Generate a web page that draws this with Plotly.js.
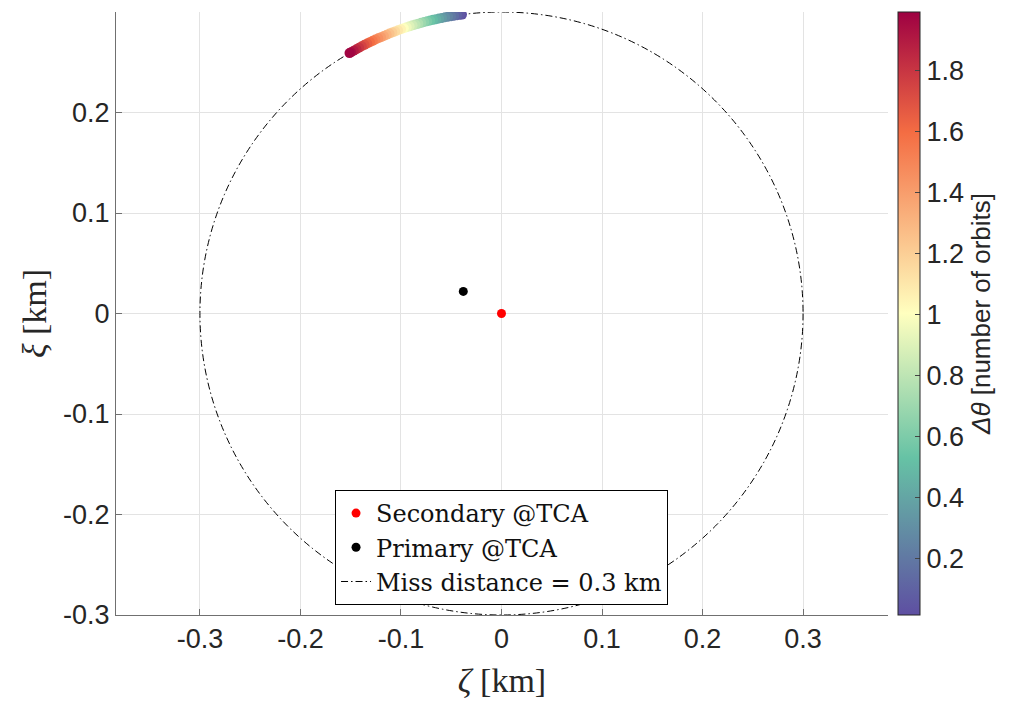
<!DOCTYPE html>
<html>
<head>
<meta charset="utf-8">
<script src="https://cdn.plot.ly/plotly-3.0.1.min.js"></script>
<style>html,body{margin:0;padding:0;background:#fff;}#plot{width:1010px;height:704px;}</style>
</head>
<body>
<div id="plot"></div>
<script>
// Relative trajectory of the primary
const deltaTheta = [0.02, 0.05, 0.1, 0.15, 0.2, 0.25, 0.3, 0.35, 0.4, 0.45, 0.5, 0.55, 0.6, 0.65, 0.7, 0.75, 0.8, 0.85, 0.9, 0.95, 1.0, 1.05, 1.1, 1.15, 1.2, 1.25, 1.3, 1.35, 1.4, 1.45, 1.5, 1.55, 1.6, 1.65, 1.7, 1.75, 1.8, 1.85, 1.9, 1.95, 1.98];
const zetaArc = [-0.0393, -0.0411, -0.0441, -0.0471, -0.0501, -0.0531, -0.0561, -0.0591, -0.0621, -0.0650, -0.0680, -0.0709, -0.0739, -0.0768, -0.0798, -0.0827, -0.0856, -0.0885, -0.0914, -0.0943, -0.0972, -0.1000, -0.1029, -0.1058, -0.1086, -0.1114, -0.1142, -0.1170, -0.1198, -0.1226, -0.1254, -0.1281, -0.1309, -0.1336, -0.1363, -0.1390, -0.1417, -0.1443, -0.1470, -0.1496, -0.1512];
const xiArc = [0.2974, 0.2972, 0.2967, 0.2963, 0.2958, 0.2953, 0.2947, 0.2941, 0.2935, 0.2929, 0.2922, 0.2915, 0.2908, 0.2900, 0.2892, 0.2884, 0.2875, 0.2867, 0.2857, 0.2848, 0.2838, 0.2828, 0.2818, 0.2807, 0.2797, 0.2786, 0.2774, 0.2762, 0.2750, 0.2738, 0.2726, 0.2713, 0.2700, 0.2686, 0.2673, 0.2659, 0.2645, 0.2630, 0.2615, 0.2600, 0.2591];
const secondary = {zeta: [0], xi: [0]};
const primary = {zeta: [-0.038], xi: [0.022]};
const missDistance = 0.3;
const xTicks = [-0.3, -0.2, -0.1, 0, 0.1, 0.2, 0.3];
const yTicks = [-0.3, -0.2, -0.1, 0, 0.1, 0.2];
const cbTicks = [0.2, 0.4, 0.6, 0.8, 1, 1.2, 1.4, 1.6, 1.8];

const colorScale = [
  [0.0, '#5e4fa2'], [0.26, '#66c2a5'], [0.5, '#ffffbf'], [0.8, '#f46d43'], [1.0, '#9e0142']
];

const serif = 'Liberation Serif, Times New Roman, serif';
const legendSerif = 'DejaVu Serif, Liberation Serif, serif';
const sans = 'Liberation Sans, Arial, Helvetica, sans-serif';
const dashPattern = '7px,3px,1.5px,3px';
const tickFont = {family: sans, size: 27, color: '#262626'};

const traces = [
  {
    x: zetaArc, y: xiArc, type: 'scatter', mode: 'markers', showlegend: false,
    hoverinfo: 'skip',
    marker: {
      size: 10, color: deltaTheta, colorscale: colorScale, cmin: 0.013, cmax: 1.993,
      line: {width: 0},
      colorbar: {
        x: 1.013, xanchor: 'left', y: 0.5, yanchor: 'middle', len: 1, lenmode: 'fraction',
        thickness: 22, thicknessmode: 'pixels',
        outlinecolor: '#262626', outlinewidth: 1,
        tickvals: cbTicks, ticktext: cbTicks.map(String),
        ticks: 'inside', ticklen: 5, tickcolor: '#444',
        tickfont: tickFont,
        xpad: 0, ypad: 0,
        title: {text: '<i>Δθ</i> [number of orbits]', side: 'right', font: {family: sans, size: 26, color: '#262626'}}
      }
    }
  },
  {
    x: secondary.zeta, y: secondary.xi, type: 'scatter', mode: 'markers', name: 'Secondary @TCA',
    marker: {size: 9, color: '#ff0000'}
  },
  {
    x: primary.zeta, y: primary.xi, type: 'scatter', mode: 'markers', name: 'Primary @TCA',
    marker: {size: 9, color: '#000000'}
  },
  {
    x: [null], y: [null], type: 'scatter', mode: 'lines', name: 'Miss distance = 0.3 km',
    line: {color: '#000', width: 1, dash: dashPattern}
  }
];

const layout = {
  width: 1010, height: 704,
  margin: {l: 116, r: 122, t: 12, b: 89},
  paper_bgcolor: '#fff', plot_bgcolor: '#fff',
  font: {family: sans, color: '#262626'},
  showlegend: true,
  legend: {
    x: 0.4994, xanchor: 'center', y: 0.0166, yanchor: 'bottom',
    bgcolor: '#fff', bordercolor: '#000', borderwidth: 1,
    font: {family: legendSerif, size: 24, color: '#111'},
    tracegroupgap: 0, itemwidth: 30
  },
  xaxis: {
    range: [-0.3835, 0.3845], tickvals: xTicks, ticktext: xTicks.map(String),
    showgrid: true, gridcolor: '#e3e3e3', gridwidth: 1, zeroline: false,
    showline: true, linecolor: '#707070', linewidth: 1, mirror: false,
    ticks: 'inside', ticklen: 6, tickcolor: '#707070',
    tickfont: tickFont,
    title: {text: '<i>ζ</i> [km]', font: {family: serif, size: 34, color: '#262626'}, standoff: 14},
    automargin: false
  },
  yaxis: {
    range: [-0.3, 0.3], tickvals: yTicks, ticktext: yTicks.map(String),
    showgrid: true, gridcolor: '#e3e3e3', gridwidth: 1, zeroline: false,
    showline: true, linecolor: '#707070', linewidth: 1, mirror: false,
    ticks: 'inside', ticklen: 6, tickcolor: '#707070',
    tickfont: tickFont,
    title: {text: '<i>ξ</i> [km]', font: {family: serif, size: 34, color: '#262626'}, standoff: 6},
    automargin: false
  },
  shapes: [{
    type: 'circle', xref: 'x', yref: 'y', layer: 'between',
    x0: -missDistance, x1: missDistance, y0: -missDistance, y1: missDistance,
    line: {color: '#000', width: 1, dash: dashPattern}
  }]
};

Plotly.newPlot('plot', traces, layout, {displayModeBar: false, staticPlot: true});
</script>
</body>
</html>
